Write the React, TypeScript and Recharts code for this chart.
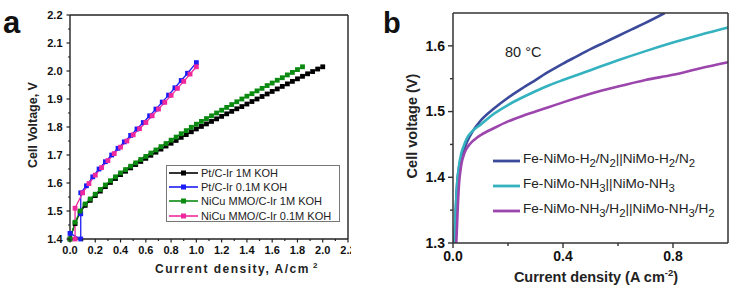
import React from "react"
import { LineChart, Line, XAxis, YAxis, Label } from "recharts"

const FONT = '"Liberation Sans", Arial, sans-serif'

// panel a: two-electrode cell, square markers
const ptIr1mJ = [0, 0.04, 0.08, 0.12, 0.16, 0.2, 0.24, 0.28, 0.32, 0.36, 0.4, 0.44, 0.48, 0.52, 0.56, 0.6, 0.64, 0.68, 0.72, 0.76, 0.8, 0.84, 0.88, 0.92, 0.96, 1.0, 1.04, 1.08, 1.12, 1.16, 1.2, 1.24, 1.28, 1.32, 1.36, 1.4, 1.44, 1.48, 1.52, 1.56, 1.6, 1.64, 1.68, 1.72, 1.76, 1.8, 1.84, 1.88, 1.92, 1.96, 2.0]
const ptIr1mV = [1.4, 1.455, 1.495, 1.52, 1.538, 1.555, 1.571, 1.587, 1.602, 1.616, 1.63, 1.642, 1.654, 1.666, 1.677, 1.688, 1.699, 1.71, 1.721, 1.732, 1.742, 1.752, 1.763, 1.773, 1.783, 1.793, 1.802, 1.811, 1.82, 1.829, 1.838, 1.847, 1.856, 1.865, 1.873, 1.882, 1.891, 1.9, 1.909, 1.918, 1.927, 1.936, 1.945, 1.954, 1.963, 1.972, 1.981, 1.99, 1.998, 2.007, 2.015]

const ptIr01mJ = [0.0, 0.085, 0.085, 0.085, 0.13, 0.18, 0.23, 0.28, 0.33, 0.38, 0.43, 0.48, 0.53, 0.58, 0.63, 0.68, 0.73, 0.78, 0.83, 0.88, 0.93, 1.0]
const ptIr01mV = [1.42, 1.4, 1.49, 1.565, 1.59, 1.622, 1.65, 1.676, 1.7, 1.724, 1.747, 1.77, 1.793, 1.816, 1.84, 1.864, 1.889, 1.914, 1.94, 1.966, 1.992, 2.03]

const nicu1mJ = [0, 0.04, 0.08, 0.12, 0.16, 0.2, 0.24, 0.28, 0.32, 0.36, 0.4, 0.44, 0.48, 0.52, 0.56, 0.6, 0.64, 0.68, 0.72, 0.76, 0.8, 0.84, 0.88, 0.92, 0.96, 1.0, 1.04, 1.08, 1.12, 1.16, 1.2, 1.24, 1.28, 1.32, 1.36, 1.4, 1.44, 1.48, 1.52, 1.56, 1.6, 1.64, 1.68, 1.72, 1.76, 1.8, 1.84]
const nicu1mV = [1.4, 1.46, 1.5, 1.525, 1.543, 1.56, 1.577, 1.593, 1.608, 1.622, 1.636, 1.648, 1.66, 1.672, 1.684, 1.695, 1.707, 1.718, 1.73, 1.741, 1.753, 1.764, 1.776, 1.787, 1.799, 1.81, 1.82, 1.83, 1.84, 1.85, 1.86, 1.87, 1.88, 1.89, 1.9, 1.91, 1.919, 1.929, 1.938, 1.948, 1.957, 1.967, 1.976, 1.986, 1.995, 2.005, 2.015]

const nicu01mJ = [0.04, 0.04, 0.1, 0.15, 0.2, 0.25, 0.3, 0.35, 0.4, 0.45, 0.5, 0.55, 0.6, 0.65, 0.7, 0.75, 0.8, 0.85, 0.9, 0.95, 1.0]
const nicu01mV = [1.4, 1.51, 1.565, 1.598, 1.628, 1.655, 1.68, 1.705, 1.728, 1.75, 1.772, 1.794, 1.816, 1.84, 1.864, 1.888, 1.913, 1.938, 1.963, 1.989, 2.015]

const aXTicks = [0, 0.1, 0.2, 0.3, 0.4, 0.5, 0.6, 0.7, 0.8, 0.9, 1.0, 1.1, 1.2, 1.3, 1.4, 1.5, 1.6, 1.7, 1.8, 1.9, 2.0, 2.1, 2.2]
const aYTicks = [1.4, 1.45, 1.5, 1.55, 1.6, 1.65, 1.7, 1.75, 1.8, 1.85, 1.9, 1.95, 2.0, 2.05, 2.1, 2.15, 2.2]

// panel b: 80 °C cells
const h2n2J = [0.005, 0.01, 0.015, 0.02, 0.03, 0.04, 0.05, 0.07, 0.1, 0.15, 0.2, 0.25, 0.3, 0.35, 0.4, 0.45, 0.5, 0.55, 0.6, 0.65, 0.7, 0.77]
const h2n2V = [1.3, 1.35, 1.39, 1.41, 1.428, 1.442, 1.453, 1.469, 1.486, 1.505, 1.521, 1.535, 1.548, 1.561, 1.573, 1.584, 1.595, 1.605, 1.615, 1.625, 1.635, 1.65]

const nh3J = [0.005, 0.01, 0.015, 0.02, 0.03, 0.04, 0.05, 0.07, 0.1, 0.15, 0.2, 0.25, 0.3, 0.35, 0.4, 0.5, 0.6, 0.7, 0.8, 0.9, 1.0]
const nh3V = [1.3, 1.35, 1.39, 1.412, 1.436, 1.449, 1.459, 1.47, 1.48, 1.497, 1.51, 1.521, 1.531, 1.54, 1.548, 1.563, 1.578, 1.592, 1.605, 1.617, 1.628]

const nh3h2J = [0.012, 0.015, 0.018, 0.022, 0.027, 0.033, 0.04, 0.05, 0.06, 0.08, 0.1, 0.15, 0.2, 0.25, 0.3, 0.35, 0.4, 0.5, 0.6, 0.7, 0.8, 0.9, 1.0]
const nh3h2V = [1.3, 1.33, 1.36, 1.39, 1.41, 1.425, 1.435, 1.444, 1.45, 1.458, 1.464, 1.475, 1.485, 1.493, 1.5, 1.507, 1.514, 1.527, 1.538, 1.548, 1.556, 1.566, 1.575]

const bXTicks = [0, 0.2, 0.4, 0.6, 0.8]
const bYTicks = [1.3, 1.35, 1.4, 1.45, 1.5, 1.55, 1.6]

const pts = (xs: number[], ys: number[]) => xs.map((x, i) => ({ x, y: ys[i] }))

const aSeries = [
  { name: "Pt/C-Ir 1M KOH", color: "#000000", data: pts(ptIr1mJ, ptIr1mV) },
  { name: "Pt/C-Ir 0.1M KOH", color: "#1c1cf5", data: pts(ptIr01mJ, ptIr01mV) },
  { name: "NiCu MMO/C-Ir 1M KOH", color: "#0b8a12", data: pts(nicu1mJ, nicu1mV) },
  { name: "NiCu MMO/C-Ir 0.1M KOH", color: "#f0289e", data: pts(nicu01mJ, nicu01mV) },
]

const bSeries = [
  { key: "h2n2", color: "#3b4a9b", data: pts(h2n2J, h2n2V) },
  { key: "nh3", color: "#35b2bf", data: pts(nh3J, nh3V) },
  { key: "nh3h2", color: "#9b45ad", data: pts(nh3h2J, nh3h2V) },
]

type Side = "bottom" | "left" | "top" | "right"
type TickOpts = {
  major: (v: number) => boolean
  label: boolean
  len: number
  minor: number
  gap: number
  size: number
  weight: number | string
  color: string
  width?: number
}

const makeTick = (side: Side, o: TickOpts) => (p: any) => {
  const { x, y, payload } = p
  const v = payload.value as number
  const big = o.major(v)
  const l = big ? o.len : o.minor
  let x2 = x
  let y2 = y
  if (side === "bottom") y2 = y + l
  if (side === "top") y2 = y - l
  if (side === "left") x2 = x - l
  if (side === "right") x2 = x + l
  const txt = v.toFixed(1)
  return (
    <g>
      <line x1={x} y1={y} x2={x2} y2={y2} stroke={o.color} strokeWidth={o.width ?? 1.2} />
      {o.label && big && side === "bottom" && (
        <text x={x} y={y + o.len + o.gap} dy="0.71em" textAnchor="middle" fontSize={o.size} fontWeight={o.weight} fontFamily={FONT} fill="#111">
          {txt}
        </text>
      )}
      {o.label && big && side === "left" && (
        <text x={x - o.len - o.gap} y={y} dy="0.35em" textAnchor="end" fontSize={o.size} fontWeight={o.weight} fontFamily={FONT} fill="#111">
          {txt}
        </text>
      )}
    </g>
  )
}

const every = (step: number) => (v: number) => Math.abs(Math.round(v / step) * step - v) < 1e-6

const aTick = { label: true, len: 3.5, minor: 2, gap: 4, size: 11, weight: "bold", color: "#222" }
const bTick = { label: true, len: 5, minor: 3, gap: 3, size: 14, weight: "bold", color: "#333", width: 1.4 }

const square = (color: string) => (p: any) => (
  <rect key={p.index} x={p.cx - 2.4} y={p.cy - 2.4} width={4.8} height={4.8} fill={color} />
)

function PanelA() {
  const axisLine = { stroke: "#222", strokeWidth: 1.4 }
  return (
    // the source figure is cropped just after the "2." of the last x label
    <div style={{ position: "absolute", left: 0, top: 0, width: 351, height: 292, overflow: "hidden" }}>
      <LineChart width={370} height={292} margin={{ top: 0, right: 0, bottom: 0, left: 0 }}>
        <XAxis xAxisId="b" type="number" dataKey="x" domain={[0, 2.2]} ticks={aXTicks} interval={0} height={53}
          axisLine={axisLine} tickLine={false} tickSize={0} tickMargin={0}
          tick={makeTick("bottom", { ...aTick, major: every(0.2) })}>
          <Label content={() => (
            <text x={237} y={273} textAnchor="middle" fontSize={12} fontWeight="bold" fontFamily={FONT} letterSpacing={1.5} fill="#222">
              Current density, A/cm<tspan dx={3} dy={-5} fontSize={8}>2</tspan>
            </text>
          )} />
        </XAxis>
        <XAxis xAxisId="t" orientation="top" type="number" domain={[0, 2.2]} ticks={aXTicks} interval={0} height={15}
          axisLine={axisLine} tickLine={false} tickSize={0} tickMargin={0}
          tick={makeTick("top", { ...aTick, label: false, major: every(0.2) })} />
        <YAxis yAxisId="l" type="number" domain={[1.4, 2.2]} ticks={aYTicks} interval={0} width={70}
          axisLine={axisLine} tickLine={false} tickSize={0} tickMargin={0}
          tick={makeTick("left", { ...aTick, major: every(0.1) })}>
          <Label content={() => (
            <text x={37} y={125} transform="rotate(-90 37 125)" textAnchor="middle" fontSize={12.5} fontWeight="bold" fontFamily={FONT} fill="#222">
              Cell Voltage, V
            </text>
          )} />
        </YAxis>
        <YAxis yAxisId="r" orientation="right" type="number" domain={[1.4, 2.2]} ticks={aYTicks} interval={0} width={22}
          axisLine={axisLine} tickLine={false} tickSize={0} tickMargin={0}
          tick={makeTick("right", { ...aTick, label: false, major: every(0.1) })} />
        {aSeries.map((s) => (
          <Line key={s.name} xAxisId="b" yAxisId="l" data={s.data} dataKey="y" type="linear"
            stroke={s.color} strokeWidth={1.3} dot={square(s.color)} activeDot={false} isAnimationActive={false} />
        ))}
      </LineChart>
      <div style={{ position: "absolute", left: 166, top: 165, width: 172, height: 55, border: "1px solid #777", background: "#fff", fontFamily: FONT, fontSize: 11, color: "#222" }}>
        {aSeries.map((s) => (
          <div key={s.name} style={{ height: 14.2, display: "flex", alignItems: "center", whiteSpace: "nowrap" }}>
            <svg width={33} height={10} style={{ flex: "none" }}>
              <line x1={2} y1={5} x2={31} y2={5} stroke={s.color} strokeWidth={1.6} />
              <rect x={14} y={2.5} width={5} height={5} fill={s.color} />
            </svg>
            <span style={{ marginLeft: 1 }}>{s.name}</span>
          </div>
        ))}
      </div>
    </div>
  )
}

function PanelB() {
  const axisLine = { stroke: "#333", strokeWidth: 1.5 }
  return (
    <div style={{ position: "absolute", left: 370, top: 0, width: 363, height: 292 }}>
      <LineChart width={363} height={292} margin={{ top: 0, right: 0, bottom: 0, left: 0 }}>
        <XAxis xAxisId="b" type="number" dataKey="x" domain={[0, 1.0]} ticks={bXTicks} interval={0} height={49}
          axisLine={axisLine} tickLine={false} tickSize={0} tickMargin={0}
          tick={makeTick("bottom", { ...bTick, major: every(0.4) })}>
          <Label content={() => (
            <text x={226} y={282} textAnchor="middle" fontSize={14.5} fontWeight="bold" fontFamily={FONT} fill="#222">
              Current density (A cm<tspan dy={-6} fontSize={9.5}>-2</tspan><tspan dy={6}>)</tspan>
            </text>
          )} />
        </XAxis>
        <XAxis xAxisId="t" orientation="top" type="number" domain={[0, 1.0]} height={13}
          axisLine={axisLine} tickLine={false} tick={false} />
        <YAxis yAxisId="l" type="number" domain={[1.3, 1.65]} ticks={bYTicks} interval={0} width={83} allowDataOverflow
          axisLine={axisLine} tickLine={false} tickSize={0} tickMargin={0}
          tick={makeTick("left", { ...bTick, major: every(0.1) })}>
          <Label content={() => (
            <text x={47} y={126} transform="rotate(-90 47 126)" textAnchor="middle" fontSize={14.5} fontWeight="bold" fontFamily={FONT} fill="#222">
              Cell voltage (V)
            </text>
          )} />
        </YAxis>
        <YAxis yAxisId="r" orientation="right" type="number" domain={[1.3, 1.65]} width={5}
          axisLine={axisLine} tickLine={false} tick={false} />
        {bSeries.map((s) => (
          <Line key={s.key} xAxisId="b" yAxisId="l" data={s.data} dataKey="y" type="monotone"
            stroke={s.color} strokeWidth={2.6} dot={false} activeDot={false} isAnimationActive={false} />
        ))}
      </LineChart>
      <div style={{ position: "absolute", left: 123, top: 148, fontFamily: FONT, fontSize: 13.6, color: "#222" }}>
        {[
          <>Fe-NiMo-H<sub>2</sub>/N<sub>2</sub>||NiMo-H<sub>2</sub>/N<sub>2</sub></>,
          <>Fe-NiMo-NH<sub>3</sub>||NiMo-NH<sub>3</sub></>,
          <>Fe-NiMo-NH<sub>3</sub>/H<sub>2</sub>||NiMo-NH<sub>3</sub>/H<sub>2</sub></>,
        ].map((t, i) => (
          <div key={i} style={{ height: 25, display: "flex", alignItems: "center", whiteSpace: "nowrap" }}>
            <svg width={28} height={6} style={{ flex: "none" }}>
              <line x1={0} y1={3} x2={27} y2={3} stroke={bSeries[i].color} strokeWidth={2.8} />
            </svg>
            <span style={{ marginLeft: 2, lineHeight: 1 }}>{t}</span>
          </div>
        ))}
      </div>
    </div>
  )
}

export default function App() {
  return (
    <div style={{ position: "absolute", left: 0, top: 0, width: 733, height: 292, background: "#fff", overflow: "hidden" }}>
      <PanelA />
      <PanelB />
      <svg width={733} height={292} style={{ position: "absolute", left: 0, top: 0, pointerEvents: "none" }}>
        <text x={3} y={33} fontSize={31} fontWeight="bold" fontFamily={FONT} fill="#111">a</text>
        <text x={383} y={33} fontSize={29} fontWeight="bold" fontFamily={FONT} fill="#111">b</text>
        <text x={505} y={57} fontSize={14.5} fontFamily={FONT} fill="#222">80 °C</text>
      </svg>
    </div>
  )
}
